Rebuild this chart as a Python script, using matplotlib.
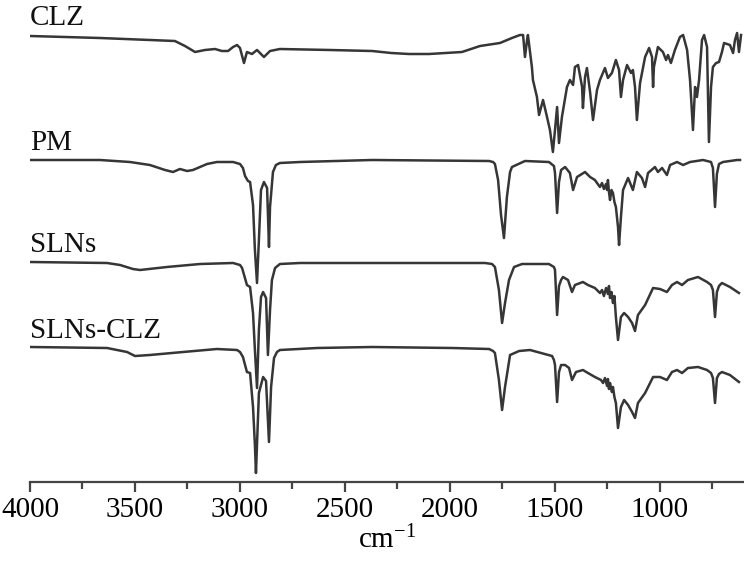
import matplotlib
matplotlib.use("Agg")
import matplotlib.pyplot as plt
from matplotlib.ticker import MultipleLocator

plt.rcParams["font.family"] = ["Liberation Serif", "DejaVu Serif"]
plt.rcParams["mathtext.default"] = "regular"

# FTIR spectra, stacked (transmittance in a.u., offset already included)
clz_wn = [4000, 3667, 3310, 3262, 3214, 3167, 3119, 3086, 3057, 3033, 3014, 3000,
          2981, 2967, 2943, 2919, 2886, 2857, 2810, 2571, 2371, 2280, 2195, 2100,
          1943, 1857, 1762, 1705, 1667, 1652, 1643, 1633, 1629, 1610, 1605, 1586,
          1576, 1557, 1538, 1524, 1510, 1500, 1490, 1481, 1467, 1443, 1429, 1414,
          1405, 1390, 1371, 1367, 1357, 1348, 1333, 1319, 1300, 1286, 1262, 1248,
          1229, 1210, 1195, 1186, 1176, 1157, 1138, 1129, 1119, 1110, 1095, 1071,
          1052, 1038, 1033, 1029, 1010, 986, 971, 962, 948, 929, 905, 890, 871,
          857, 843, 833, 824, 814, 800, 790, 776, 767, 757, 748, 733, 719, 705,
          695, 667, 652, 643, 633, 624, 614]
clz_t = [446, 444, 441, 436, 430, 432, 433, 431, 431, 435, 437, 434,
         419, 430, 428, 432, 425, 431, 433, 432, 431, 429, 428, 428,
         430, 436, 439, 444, 447, 447, 425, 442, 447, 415, 402, 385,
         367, 382, 365, 352, 330, 352, 375, 339, 365, 395, 402, 397,
         415, 417, 395, 374, 405, 414, 390, 362, 392, 402, 414, 404,
         409, 422, 412, 385, 402, 417, 409, 412, 395, 362, 399, 425,
         434, 425, 395, 415, 435, 430, 422, 427, 419, 432, 445, 447, 432,
         402, 352, 395, 385, 402, 442, 447, 435, 340, 395, 415, 419, 420, 430,
         439, 437, 429, 442, 449, 430, 447]

pm_wn = [4000, 3667, 3524, 3429, 3357, 3319, 3286, 3252, 3224, 3157, 3110, 3033,
         3000, 2986, 2976, 2962, 2952, 2938, 2929, 2919, 2910, 2900, 2886, 2871,
         2862, 2857, 2843, 2829, 2810, 2714, 2371, 1814, 1795, 1786, 1771, 1757,
         1743, 1729, 1714, 1705, 1643, 1529, 1505, 1500, 1490, 1481, 1471, 1452,
         1429, 1414, 1395, 1357, 1333, 1310, 1286, 1276, 1267, 1257, 1252, 1248,
         1243, 1238, 1231, 1224, 1217, 1210, 1200, 1195, 1186, 1176, 1152, 1129,
         1110, 1086, 1071, 1057, 1024, 1010, 990, 967, 952, 919, 890, 857, 795,
         757, 748, 738, 729, 719, 700, 633, 619]
pm_t = [322, 322, 320, 317, 312, 310, 313, 311, 312, 318, 320, 320,
        318, 314, 306, 301, 300, 277, 232, 199, 242, 292, 300, 294,
        235, 275, 310, 317, 319, 320, 322, 321, 320, 318, 302, 267,
        244, 285, 310, 315, 321, 320, 316, 309, 269, 300, 312, 315,
        309, 292, 305, 310, 305, 302, 295, 299, 293, 298, 292, 302,
        290, 282, 292, 289, 280, 275, 255, 237, 265, 292, 304, 292,
        310, 304, 295, 309, 315, 310, 314, 307, 317, 320, 317, 320, 322,
        320, 314, 275, 308, 318, 320, 322, 322]

sln_wn = [4000, 3633, 3571, 3510, 3476, 3348, 3190, 3033, 3000, 2990, 2967, 2952,
          2938, 2929, 2919, 2910, 2900, 2890, 2876, 2867, 2857, 2848, 2833, 2810,
          2714, 2371, 1833, 1800, 1786, 1767, 1752, 1738, 1719, 1695, 1657, 1529,
          1505, 1500, 1490, 1481, 1471, 1462, 1438, 1419, 1405, 1367, 1343, 1310,
          1286, 1276, 1267, 1257, 1248, 1243, 1238, 1231, 1224, 1217, 1210, 1200,
          1186, 1171, 1152, 1133, 1119, 1105, 1071, 1033, 1000, 967, 943, 919,
          895, 867, 819, 776, 757, 748, 738, 729, 719, 705, 667, 624]
sln_t = [220, 219, 217, 213, 212, 215, 218, 219, 217, 214, 197, 195,
         169, 132, 94, 152, 185, 190, 184, 127, 172, 202, 214, 218,
         219, 219, 219, 218, 215, 192, 159, 179, 202, 215, 218, 218,
         215, 212, 167, 196, 202, 205, 202, 190, 197, 200, 197, 194,
         189, 192, 186, 194, 188, 196, 184, 190, 179, 186, 165, 142,
         165, 169, 165, 159, 151, 167, 177, 194, 193, 190, 197, 200,
         197, 202, 205, 200, 197, 192, 165, 190, 196, 199, 195, 189]

slnclz_wn = [4000, 3633, 3538, 3500, 3429, 3271, 3110, 3014, 3000, 2986, 2967, 2952,
             2938, 2929, 2924, 2910, 2890, 2876, 2862, 2852, 2838, 2824, 2810, 2633,
             2371, 1990, 1814, 1795, 1786, 1767, 1752, 1738, 1714, 1671, 1619, 1514,
             1505, 1500, 1490, 1481, 1471, 1452, 1433, 1419, 1400, 1367, 1343, 1310,
             1281, 1271, 1262, 1252, 1248, 1243, 1238, 1229, 1224, 1217, 1210, 1200,
             1186, 1171, 1152, 1133, 1119, 1105, 1071, 1033, 1000, 967, 943, 919,
             895, 867, 819, 776, 757, 748, 738, 729, 719, 705, 667, 624]
slnclz_t = [135, 134, 130, 126, 127, 130, 133, 132, 130, 125, 110, 109,
            75, 37, 9, 89, 105, 101, 40, 95, 124, 130, 132, 134,
            135, 134, 133, 131, 129, 102, 72, 95, 127, 131, 132, 126,
            122, 117, 80, 110, 117, 117, 114, 102, 110, 112, 109, 105,
            102, 99, 104, 96, 103, 93, 99, 90, 95, 85, 79, 54,
            75, 82, 77, 70, 64, 79, 89, 105, 105, 102, 110, 112,
            109, 114, 115, 112, 109, 104, 79, 104, 108, 110, 107, 100]

labels = ["CLZ", "PM", "SLNs", "SLNs-CLZ"]
label_y = [457, 332, 230, 144]

fig = plt.figure(figsize=(7.44, 5.70), dpi=100)
ax = fig.add_axes([30 / 744, 88 / 570, 714 / 744, 482 / 570])

line_color = "#363636"
for wn, t in [(clz_wn, clz_t), (pm_wn, pm_t), (sln_wn, sln_t), (slnclz_wn, slnclz_t)]:
    ax.plot(wn, t, color=line_color, lw=1.8, solid_joinstyle="round")

for name, y in zip(labels, label_y):
    ax.text(4000, y, name, fontsize=21, ha="left", va="baseline", color="#111111")

ax.set_xlim(4000, 600)
ax.set_ylim(0, 482)
for side in ["left", "right", "top"]:
    ax.spines[side].set_visible(False)
ax.spines["bottom"].set_linewidth(1.6)
ax.spines["bottom"].set_color("#444444")
ax.set_yticks([])
ax.xaxis.set_major_locator(MultipleLocator(500))
ax.xaxis.set_minor_locator(MultipleLocator(250))
ax.tick_params(axis="x", which="major", length=7.5, width=1.6, color="#444444",
               labelsize=21, pad=3)
ax.tick_params(axis="x", which="minor", length=5, width=1.6, color="#444444")
ax.set_xlabel("cm$^{-1}$", fontsize=21, labelpad=2)
ax.patch.set_visible(False)

fig.savefig("out.png", dpi=100)
